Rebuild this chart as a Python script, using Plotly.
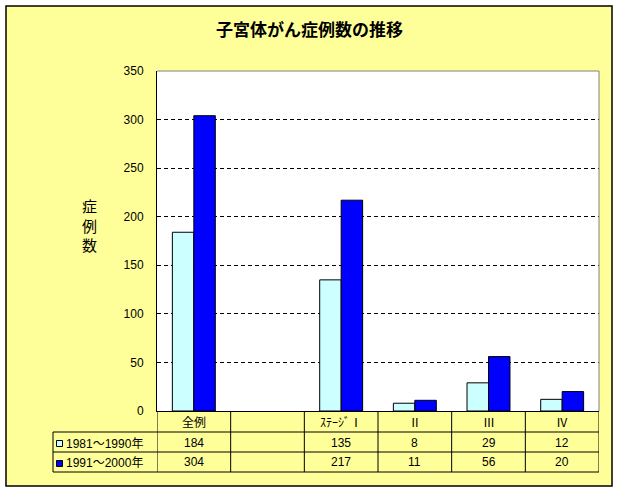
import plotly.graph_objects as go

# ---- data ----
categories = ["全例", " ", "ｽﾃｰｼﾞⅠ", "Ⅱ", "Ⅲ", "Ⅳ"]
series_names = ["1981～1990年", "1991～2000年"]
values_1981_1990 = [184, None, 135, 8, 29, 12]
values_1991_2000 = [304, None, 217, 11, 56, 20]
y_ticks = [0, 50, 100, 150, 200, 250, 300, 350]
title_text = "子宮体がん症例数の推移"
y_title = "症例数"

# ---- style / geometry ----
W, H = 617, 491
PL, PR, PT, PB = 157, 599, 71, 411          # plot area in pixels
YELLOW = "#FFFF99"
LIGHT = "#CCFFFF"
DARK = "#0000FF"
NUM_FONT = "Liberation Sans, Arial, Noto Sans CJK JP, sans-serif"
JP_FONT = "Noto Sans CJK JP, sans-serif"


def px_x(px):
    return (px - PL) / (PR - PL)


def px_y(py):
    return (PB - py) / (PB - PT)


fig = go.Figure()
series = [values_1981_1990, values_1991_2000]
colors = [LIGHT, DARK]
for name, vals, col in zip(series_names, series, colors):
    fig.add_trace(go.Bar(
        x=categories, y=vals, name=name,
        marker=dict(color=col, line=dict(color="black", width=1)),
        showlegend=False, hoverinfo="skip",
    ))

shapes = []
# chart area
shapes.append(dict(type="rect", xref="paper", yref="paper", layer="below",
                   x0=px_x(6), x1=px_x(612), y0=px_y(486), y1=px_y(6),
                   fillcolor=YELLOW, line=dict(color="black", width=1.5)))
# plot area background
shapes.append(dict(type="rect", xref="paper", yref="paper", layer="below",
                   x0=0, x1=1, y0=0, y1=1, fillcolor="white",
                   line=dict(width=0)))
# gray top / right border of plot area
shapes.append(dict(type="line", xref="paper", yref="paper", layer="above",
                   x0=0, x1=1, y0=1, y1=1, line=dict(color="#808080", width=1)))
shapes.append(dict(type="line", xref="paper", yref="paper", layer="above",
                   x0=1, x1=1, y0=0, y1=1, line=dict(color="#808080", width=1)))

# data table
row_lines = [432, 452, 472]
row_centers = [421.5, 442.5, 462.5]
leg_left = 53
for py in row_lines:
    shapes.append(dict(type="line", xref="paper", yref="paper", layer="above",
                       x0=px_x(leg_left), x1=1, y0=px_y(py), y1=px_y(py),
                       line=dict(color="black", width=1)))
for i in range(len(categories) + 1):
    shapes.append(dict(type="line", xref="x", yref="paper", layer="above",
                       x0=i - 0.5, x1=i - 0.5, y0=px_y(PB), y1=px_y(row_lines[-1]),
                       line=dict(color="black", width=1)))
shapes.append(dict(type="line", xref="paper", yref="paper", layer="above",
                   x0=px_x(leg_left), x1=px_x(leg_left),
                   y0=px_y(row_lines[0]), y1=px_y(row_lines[-1]),
                   line=dict(color="black", width=1)))

annotations = []
# header row
for c in categories:
    annotations.append(dict(x=c, y=px_y(row_centers[0]), xref="x", yref="paper",
                            text=c.strip(), showarrow=False,
                            font=dict(family=JP_FONT, size=12, color="black"),
                            xanchor="center", yanchor="middle"))
# series rows
for r, (name, vals, col) in enumerate(zip(series_names, series, colors)):
    yc = row_centers[r + 1]
    shapes.append(dict(type="rect", xref="paper", yref="paper", layer="above",
                       x0=px_x(56.5), x1=px_x(62.5), y0=px_y(yc + 4), y1=px_y(yc - 2),
                       fillcolor=col, line=dict(color="black", width=1)))
    annotations.append(dict(x=px_x(64), y=px_y(yc + 1), xref="paper", yref="paper",
                            text=name, showarrow=False,
                            font=dict(family=NUM_FONT, size=12, color="black"),
                            xanchor="left", yanchor="middle"))
    for c, v in zip(categories, vals):
        if v is None:
            continue
        annotations.append(dict(x=c, y=px_y(yc), xref="x", yref="paper",
                                text=str(v), showarrow=False,
                                font=dict(family=NUM_FONT, size=12, color="black"),
                                xanchor="center", yanchor="middle"))

# title
annotations.append(dict(x=px_x(309), y=px_y(28), xref="paper", yref="paper",
                        text="<b>" + title_text + "</b>", showarrow=False,
                        font=dict(family=JP_FONT, size=17, color="black"),
                        xanchor="center", yanchor="middle"))
# vertical y-axis title
annotations.append(dict(x=px_x(89), y=px_y(225), xref="paper", yref="paper",
                        text="<br>".join(y_title), showarrow=False,
                        font=dict(family=JP_FONT, size=15, color="black"),
                        xanchor="center", yanchor="middle"))

fig.update_layout(
    width=W, height=H,
    margin=dict(l=PL, r=W - PR, t=PT, b=H - PB, autoexpand=False),
    paper_bgcolor="white", plot_bgcolor="white",
    barmode="group", bargap=0.417, bargroupgap=0,
    shapes=shapes, annotations=annotations,
    xaxis=dict(type="category", categoryorder="array", categoryarray=categories,
               range=[-0.5, len(categories) - 0.5], showticklabels=False,
               showgrid=False, showline=True, linecolor="black", linewidth=1,
               ticks="", fixedrange=True),
    yaxis=dict(range=[0, 350], tickvals=y_ticks, showline=True, linecolor="black",
               linewidth=1, ticks="", showgrid=True, gridcolor="black",
               gridwidth=1, griddash="4px,3px", zeroline=False,
               ticklabelstandoff=10,
               tickfont=dict(family=NUM_FONT, size=12, color="black"),
               fixedrange=True),
)

fig.write_html("out.html",
               config={"displayModeBar": False},
               post_script="document.body.style.margin='0px';"
                           "document.body.style.padding='0px';")
